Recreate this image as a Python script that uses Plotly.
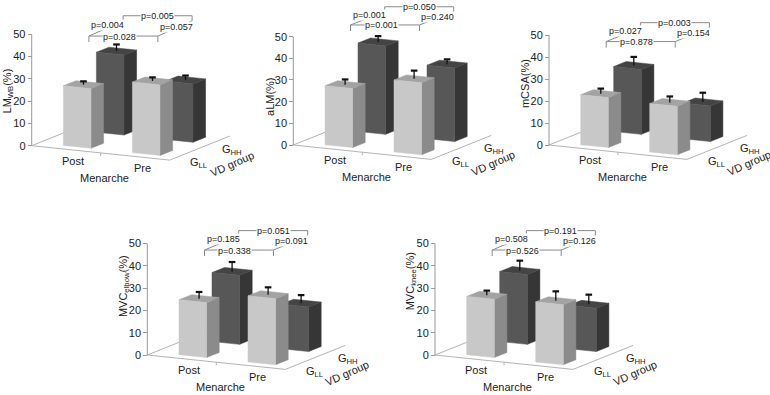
import plotly.graph_objects as go

W, H = 770, 395

# ---------------- data ----------------
categories = ["Post", "Pre"]
vd_groups = ["G<sub>LL</sub>", "G<sub>HH</sub>"]
y_ticks = [0, 10, 20, 30, 40, 50]
y_titles = ["LM<sub>WB</sub>(%)", "aLM(%)", "mCSA(%)", "MVC<sub>elbow</sub>(%)", "MVC<sub>knee</sub>(%)"]

lmwb_gll = [26.7, 31.6]
lmwb_ghh = [35.8, 26.1]
lmwb_gll_err = [1.5, 1.6]
lmwb_ghh_err = [3.0, 2.0]
lmwb_p = ["p=0.004", "p=0.028", "p=0.005", "p=0.057"]

alm_gll = [27.2, 33.2]
alm_ghh = [40.8, 33.9]
alm_gll_err = [2.4, 3.8]
alm_ghh_err = [2.7, 2.2]
alm_p = ["p=0.001", "p=0.001", "p=0.050", "p=0.240"]

mcsa_gll = [22.7, 22.0]
mcsa_ghh = [29.5, 16.2]
mcsa_gll_err = [2.3, 2.7]
mcsa_ghh_err = [3.9, 4.2]
mcsa_p = ["p=0.027", "p=0.878", "p=0.003", "p=0.154"]

elbow_gll = [24.6, 29.6]
elbow_ghh = [30.9, 19.9]
elbow_gll_err = [3.0, 3.3]
elbow_ghh_err = [4.2, 3.6]
elbow_p = ["p=0.185", "p=0.338", "p=0.051", "p=0.091"]

knee_gll = [26.1, 26.9]
knee_ghh = [31.3, 19.4]
knee_gll_err = [2.1, 4.2]
knee_ghh_err = [4.4, 4.3]
knee_p = ["p=0.508", "p=0.526", "p=0.191", "p=0.126"]

# ---------------- panel layout (positions / scales) ----------------
PANELS = [
    dict(series=(lmwb_gll, lmwb_ghh, lmwb_gll_err, lmwb_ghh_err), p=lmwb_p, title=y_titles[0],
         origin=(31.7, 145.7), k=2.233, box=(0, 0, 260, 195), title_y=24.6, br=(49.1, 58.2)),
    dict(series=(alm_gll, alm_ghh, alm_gll_err, alm_ghh_err), p=alm_p, title=y_titles[1],
         origin=(293.3, 145.0), k=2.167, box=(260, 0, 520, 195), title_y=22.3, br=(55.4, 63.8)),
    dict(series=(mcsa_gll, mcsa_ghh, mcsa_gll_err, mcsa_ghh_err), p=mcsa_p, title=y_titles[2],
         origin=(549.0, 145.0), k=2.2, box=(520, 0, 770, 195), title_y=27.7, br=(47.0, 55.6)),
    dict(series=(elbow_gll, elbow_ghh, elbow_gll_err, elbow_ghh_err), p=elbow_p, title=y_titles[3],
         origin=(147.3, 355.0), k=2.233, box=(100, 200, 390, 395), title_y=31.0, br=(47.0, 55.7)),
    dict(series=(knee_gll, knee_ghh, knee_gll_err, knee_ghh_err), p=knee_p, title=y_titles[4],
         origin=(435.0, 355.0), k=2.233, box=(390, 200, 680, 395), title_y=33.0, br=(47.0, 55.7)),
]

# oblique projection (pixels per unit)
UX, UY = 69.0, 7.2      # menarche axis: right / down
VX, VY = 30.0, -12.0    # depth axis: right / up
BAR_OFF, BAR_W = 0.355, 0.40
ROW_Z0 = [0.24, 1.34]   # G_LL (front), G_HH (back)
BAR_D = 0.42
FLOOR_X, FLOOR_Z = 2.0, 2.0
BR_Z = (0.63, 1.77)

LIGHT = dict(front="#c8c8c8", side="#8b8b8b", top="#a3a3a3")
DARK = dict(front="#575757", side="#363636", top="#444444")
FONT = "Liberation Sans, Arial, sans-serif"

fig = go.Figure()
annotations = []
layout_axes = {}


def proj(x, z, val, k):
    return UX * x + VX * z, val - (UY * x + VY * z) / k


def line(xs, ys, ax, color="#aaaaaa", width=1.0):
    fig.add_trace(go.Scatter(x=xs, y=ys, mode="lines", line=dict(color=color, width=width),
                             hoverinfo="skip", showlegend=False, xaxis=ax[0], yaxis=ax[1]))


def poly(pts, color, ax):
    xs = [p[0] for p in pts] + [pts[0][0]]
    ys = [p[1] for p in pts] + [pts[0][1]]
    fig.add_trace(go.Scatter(x=xs, y=ys, mode="lines", fill="toself", fillcolor=color,
                             line=dict(color=color, width=0.5), hoverinfo="skip",
                             showlegend=False, xaxis=ax[0], yaxis=ax[1]))


def bar(i, row, val, err, colors, k, ax):
    x0 = i + BAR_OFF
    x1 = x0 + BAR_W
    z0 = ROW_Z0[row]
    z1 = z0 + BAR_D
    P = lambda x, z, v: proj(x, z, v, k)
    poly([P(x1, z0, 0), P(x1, z1, 0), P(x1, z1, val), P(x1, z0, val)], colors["side"], ax)
    poly([P(x0, z0, val), P(x1, z0, val), P(x1, z1, val), P(x0, z1, val)], colors["top"], ax)
    poly([P(x0, z0, 0), P(x1, z0, 0), P(x1, z0, val), P(x0, z0, val)], colors["front"], ax)
    cx, cy = P(x0 + BAR_W / 2, z0 + BAR_D / 2, val)
    line([cx, cx], [cy, cy + err], ax, color="#111111", width=1.3)
    line([cx - 3.3, cx + 3.3], [cy + err, cy + err], ax, color="#111111", width=2.2)


def ann(text, x, y, ax, size=11, angle=0, xshift=0, yshift=0, bg=None):
    d = dict(text=text, x=x, y=y, xref=ax[0], yref=ax[1], showarrow=False,
             font=dict(family=FONT, size=size, color="#222222"), textangle=angle,
             xshift=xshift, yshift=yshift, xanchor="center", yanchor="middle")
    if bg:
        d.update(bgcolor=bg, borderpad=0)
    annotations.append(d)


for n, pn in enumerate(PANELS):
    idx = "" if n == 0 else str(n + 1)
    ax = ("x" + idx, "y" + idx)
    ox, oy = pn["origin"]
    k = pn["k"]
    L, T, R, B = pn["box"]
    layout_axes["xaxis" + idx] = dict(domain=[L / W, R / W], range=[L - ox, R - ox], visible=False,
                                      fixedrange=True, anchor="y" + idx)
    layout_axes["yaxis" + idx] = dict(domain=[1 - B / H, 1 - T / H], range=[(oy - B) / k, (oy - T) / k],
                                      anchor="free", position=ox / W, tickvals=y_ticks,
                                      ticks="outside", ticklen=4, tickcolor="#999999", tickwidth=1,
                                      showline=False, showgrid=False, zeroline=False, fixedrange=True,
                                      tickfont=dict(family=FONT, size=11, color="#222222"))
    gll, ghh, gll_e, ghh_e = pn["series"]

    # floor
    f0 = proj(0, 0, 0, k); f1 = proj(FLOOR_X, 0, 0, k)
    f2 = proj(FLOOR_X, FLOOR_Z, 0, k); f3 = proj(0, FLOOR_Z, 0, k)
    line([f3[0], f0[0], f1[0], f2[0]], [f3[1], f0[1], f1[1], f2[1]], ax, color="#b4b4b4", width=1)
    tm = proj(1, 0, 0, k)
    line([tm[0], tm[0]], [tm[1], tm[1] - 3 / k], ax, color="#b4b4b4", width=1)
    # value axis line
    line([0, 0], [y_ticks[0], y_ticks[-1]], ax, color="#999999", width=1)

    # bars: back row then front row
    for i in range(len(categories)):
        bar(i, 1, ghh[i], ghh_e[i], DARK, k, ax)
    for i in range(len(categories)):
        bar(i, 0, gll[i], gll_e[i], LIGHT, k, ax)

    # significance brackets
    hl, hu = pn["br"]
    cxs = [i + BAR_OFF + BAR_W / 2 for i in range(len(categories))]
    lo = [proj(c, BR_Z[0], 0, k)[0] for c in cxs]
    up = [proj(c, BR_Z[1], 0, k)[0] for c in cxs]
    dl, du = 6 / k, 5 / k
    bc = "#8a8a8a"
    line([lo[0], lo[0], lo[1], lo[1]], [hl - dl, hl, hl, hl - dl], ax, color=bc)
    line([up[0], up[0], up[1], up[1]], [hu - du, hu, hu, hu - du], ax, color=bc)
    line([lo[0], up[0]], [hl, hu - du], ax, color=bc)
    line([lo[1], up[1]], [hl, hu - du], ax, color=bc)
    pl, plo, pup, pr = pn["p"]
    ann(plo, (lo[0] + lo[1]) / 2 - 4, hl, ax, size=9, bg="white", yshift=-0.5)
    ann(pup, (up[0] + up[1]) / 2, hu, ax, size=9, bg="white")
    ann(pl, (lo[0] + up[0]) / 2 + 2, (hl + hu) / 2, ax, size=9, bg="white", yshift=1)
    ann(pr, (lo[1] + up[1]) / 2 + 1, (hl + hu) / 2 - 0.4, ax, size=9, bg="white")

    # category labels
    for i, c in enumerate(categories):
        px, py = proj(cxs[i], 0, 0, k)
        ann(c, px, py, ax, xshift=3, yshift=-11)
    mx, my = proj(FLOOR_X / 2, 0, 0, k)
    ann("Menarche", mx, my, ax, xshift=4, yshift=-25)
    for r, g in enumerate(vd_groups):
        gx, gy = proj(FLOOR_X, ROW_Z0[r] + BAR_D / 2, 0, k)
        ann(g, gx, gy, ax, xshift=16, yshift=-8)
    vx, vy = proj(FLOOR_X, FLOOR_Z / 2, 0, k)
    ann("VD group", vx, vy, ax, angle=-24, xshift=32, yshift=-16)
    # value axis title
    ann(pn["title"], -24, pn["title_y"], ax, angle=-90)

fig.update_layout(width=W, height=H, margin=dict(l=0, r=0, t=0, b=0),
                  paper_bgcolor="white", plot_bgcolor="rgba(0,0,0,0)",
                  showlegend=False, annotations=annotations, **layout_axes)
fig.write_html("out.html", config={"displayModeBar": False},
               post_script="document.body.style.margin='0';document.body.style.overflow='hidden';")
